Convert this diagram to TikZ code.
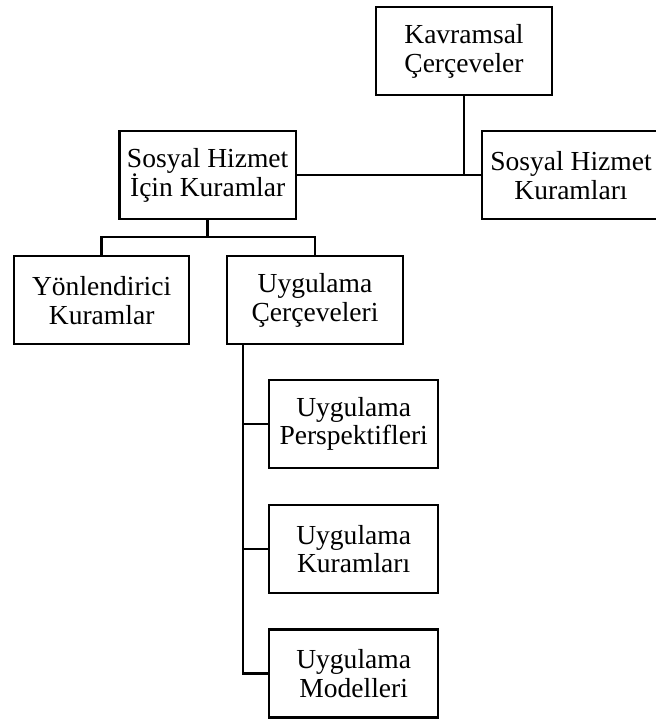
\documentclass[tikz,border=0pt]{standalone}
\usepackage{fontspec}
\setmainfont{Liberation Serif}
\usepackage{xcolor}

\tikzset{
  kutu/.style={draw,line width=2pt,minimum width=5.28cm,minimum height=2.64cm,
    align=center,inner sep=0pt,font=\fontsize{23.5}{24.5}\selectfont},
  darkutu/.style={kutu,minimum width=5.07cm},
  hat/.style={line width=2pt}
}

\begin{document}
\begin{tikzpicture}
\useasboundingbox (0,0) rectangle (19.65,21.6);
\draw (13.92,20.06) node[kutu](kav) {Kavramsal\\Çerçeveler};
\draw (6.23,16.34) node[kutu](sih) {Sosyal Hizmet\\İçin Kuramlar};
\draw (17.13,16.34) node[kutu,minimum width=5.34cm](shk) {Sosyal Hizmet\\Kuramları};
\draw (3.05,12.59) node[kutu,minimum width=5.25cm](yon) {Yönlendirici\\Kuramlar};
\draw (9.45,12.59) node[kutu](cer) {Uygulama\\Çerçeveleri};
\draw (10.61,8.88) node[darkutu](per) {Uygulama\\Perspektifleri};
\draw (10.61,5.13) node[darkutu](kur) {Uygulama\\Kuramları};
\draw (10.61,1.40) node[darkutu](mod) {Uygulama\\Modelleri};
\coordinate (bar) at (6.23,14.49);
\coordinate (trunk) at (7.29,12.59);
\draw[hat] (sih.east) -- (shk.west);
\draw[hat] (kav.south) -- (kav.south |- sih.east);
\draw[hat] (sih.south) -- (bar);
\draw[hat] (yon.north) |- (bar) -| (cer.north);
\draw[hat] (trunk |- cer.south) -- (trunk |- mod.west) -- (mod.west);
\draw[hat] (trunk |- per.west) -- (per.west);
\draw[hat] (trunk |- kur.west) -- (kur.west);
\end{tikzpicture}
\end{document}
